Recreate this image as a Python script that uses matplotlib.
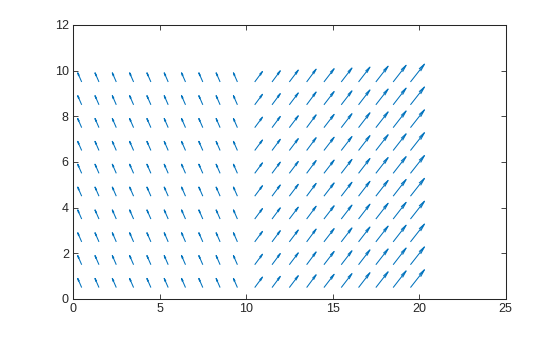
import numpy as np
import matplotlib
matplotlib.use("Agg")
import matplotlib.pyplot as plt
from matplotlib.collections import LineCollection

# --- datos ---
x_cols = [0.5, 1.5, 2.5, 3.5, 4.5, 5.5, 6.5, 7.5, 8.5, 9.5,
          10.5, 11.5, 12.5, 13.5, 14.5, 15.5, 16.5, 17.5, 18.5, 19.5]
y_rows = [0.5, 1.5, 2.5, 3.5, 4.5, 5.5, 6.5, 7.5, 8.5, 9.5]

# componentes (ya escaladas, en unidades de los ejes) por columna
u_cols = [-0.23, -0.23, -0.23, -0.23, -0.23, -0.23, -0.23, -0.23, -0.23, -0.23,
          0.45, 0.48, 0.52, 0.55, 0.59, 0.62, 0.66, 0.71, 0.75, 0.81]
v_cols = [0.40, 0.40, 0.40, 0.40, 0.40, 0.40, 0.40, 0.40, 0.40, 0.40,
          0.46, 0.49, 0.52, 0.56, 0.58, 0.61, 0.65, 0.69, 0.73, 0.78]

x_ticks = [0, 5, 10, 15, 20, 25]
y_ticks = [0, 2, 4, 6, 8, 10, 12]

color = "#0072BD"
axcol = "#262626"

plt.rcParams["font.family"] = ["Liberation Sans", "DejaVu Sans"]
plt.rcParams["font.size"] = 9

X, Y = np.meshgrid(x_cols, y_rows)
U = np.tile(u_cols, (len(y_rows), 1))
V = np.tile(v_cols, (len(y_rows), 1))
X, Y, U, V = X.ravel(), Y.ravel(), U.ravel(), V.ravel()

# flechas al estilo de quiver de MATLAB (cabeza con dos lineas)
alpha = 0.33
beta = 0.18
segs = []
for x, y, u, v in zip(X, Y, U, V):
    segs.append([(x, y), (x + u, y + v)])
    hx = [x + u - alpha * (u + beta * v), x + u, x + u - alpha * (u - beta * v)]
    hy = [y + v - alpha * (v - beta * u), y + v, y + v - alpha * (v + beta * u)]
    segs.append(list(zip(hx, hy)))

fig = plt.figure(figsize=(5.6, 3.37), dpi=100)
ax = fig.add_axes([0.1304, 0.1128, 0.7725, 0.8135])
ax.add_collection(LineCollection(segs, colors=color, linewidths=0.75))

ax.set_xlim(0, 25)
ax.set_ylim(0, 12)
ax.set_xticks(x_ticks)
ax.set_yticks(y_ticks)
ax.tick_params(direction="in", length=3.6, width=0.6, colors=axcol,
               top=True, right=True, labelcolor=axcol, pad=3)
for s in ax.spines.values():
    s.set_color(axcol)
    s.set_linewidth(0.75)

fig.savefig("out.png", dpi=100)
